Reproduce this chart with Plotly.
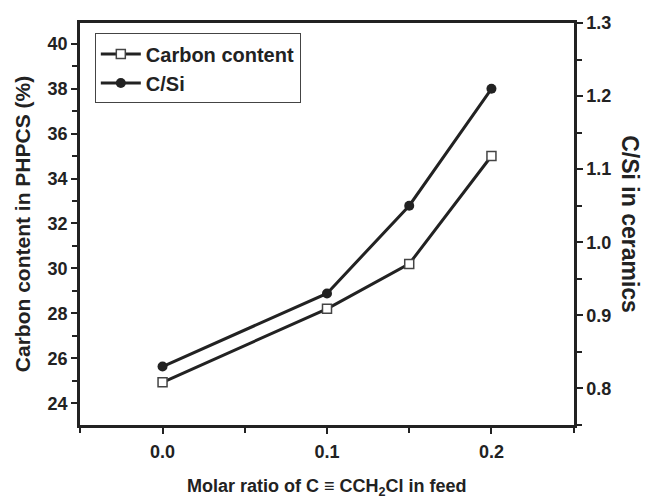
import plotly.graph_objects as go

x_ratio = [0.0, 0.1, 0.15, 0.2]
carbon_content = [24.93, 28.2, 30.2, 35.0]
c_si = [0.83, 0.93, 1.05, 1.21]

x_ticks = [0.0, 0.1, 0.2]
x_ticktext = ["0.0", "0.1", "0.2"]
left_ticks = [24, 26, 28, 30, 32, 34, 36, 38, 40]
right_ticks = [0.8, 0.9, 1.0, 1.1, 1.2, 1.3]
right_ticktext = ["0.8", "0.9", "1.0", "1.1", "1.2", "1.3"]

INK = "#222222"
FONT = "Liberation Sans, Arial, sans-serif"


def bold(labels):
    return ["<b>%s</b>" % t for t in labels]


fig = go.Figure()
fig.add_trace(go.Scatter(
    x=x_ratio, y=carbon_content, name="<b>Carbon content</b>", mode="lines+markers",
    line=dict(color=INK, width=3),
    marker=dict(symbol="square", size=9, color="white", line=dict(color="#444444", width=1.5)),
    yaxis="y"))
fig.add_trace(go.Scatter(
    x=x_ratio, y=c_si, name="<b>C/Si</b>", mode="lines+markers",
    line=dict(color=INK, width=3),
    marker=dict(symbol="circle", size=10, color=INK),
    yaxis="y2"))

axis_common = dict(showgrid=False, zeroline=False, showline=True, linecolor=INK, linewidth=2.5,
                   ticks="outside", tickcolor=INK, tickwidth=2, ticklen=6,
                   tickfont=dict(family=FONT, size=18, color=INK))

fig.update_layout(
    width=648, height=500,
    margin=dict(l=80, r=74, t=23, b=75),
    paper_bgcolor="white", plot_bgcolor="white",
    font=dict(family=FONT, color=INK),
    showlegend=True,
    legend=dict(x=0.03, y=0.974, xanchor="left", yanchor="top",
                bordercolor="#444444", borderwidth=1, bgcolor="white",
                font=dict(family=FONT, size=20, color=INK),
                tracegroupgap=0, itemwidth=40),
    xaxis=dict(range=[-0.0502, 0.2502], tickvals=x_ticks, ticktext=bold(x_ticktext), mirror=True,
               minor=dict(dtick=0.05, tick0=-0.05, ticklen=5, tickwidth=2, tickcolor=INK, ticks="outside"),
               ticklabelstandoff=3,
               **axis_common),
    yaxis=dict(range=[23.03, 40.92], tickvals=left_ticks, ticktext=bold([str(v) for v in left_ticks]),
               minor=dict(dtick=1, tick0=23, ticklen=5, tickwidth=2, tickcolor=INK, ticks="outside"),
               **axis_common),
    yaxis2=dict(range=[0.75, 1.3], tickvals=right_ticks, ticktext=bold(right_ticktext),
                overlaying="y", side="right",
                minor=dict(dtick=0.05, tick0=0.75, ticklen=5, tickwidth=2, tickcolor=INK, ticks="outside"),
                **axis_common),
)

fig.add_annotation(text="<b>Carbon content in PHPCS (%)</b>", xref="paper", yref="paper",
                   x=-0.117, y=0.5, xanchor="center", yanchor="middle", textangle=-90,
                   showarrow=False, font=dict(family=FONT, size=21, color=INK))
fig.add_annotation(text="<b>C/Si in ceramics</b>", xref="paper", yref="paper",
                   x=1.113, y=0.5, xanchor="center", yanchor="middle", textangle=90,
                   showarrow=False, font=dict(family=FONT, size=23, color=INK))
fig.add_annotation(text="<b>Molar ratio of C \u2261 CCH<sub>2</sub>Cl in feed</b>", xref="paper", yref="paper",
                   x=0.5, y=-0.155, xanchor="center", yanchor="middle",
                   showarrow=False, font=dict(family=FONT, size=18, color=INK))

fig.write_html("out.html")
